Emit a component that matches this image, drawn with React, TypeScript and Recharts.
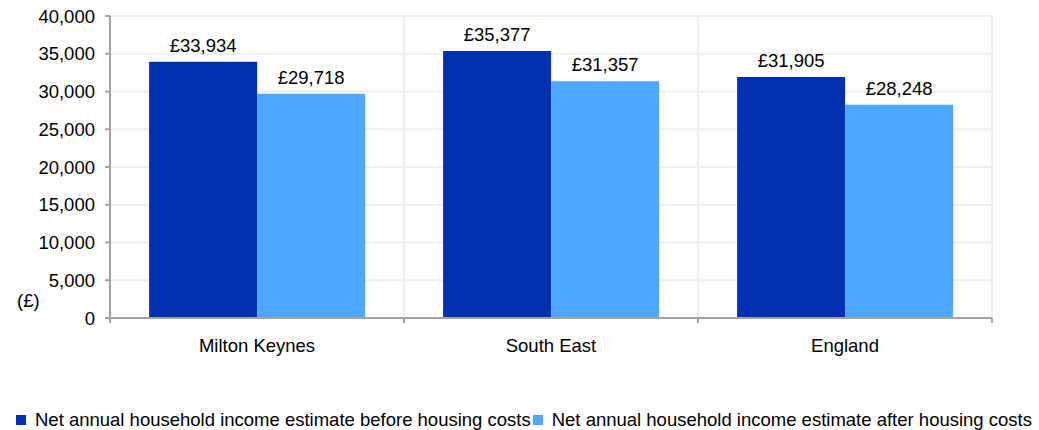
import { BarChart, Bar, XAxis, YAxis, CartesianGrid, Legend, LabelList, Label } from "recharts";

const categories = ["Milton Keynes", "South East", "England"];
const beforeHousing = [33934, 35377, 31905];
const afterHousing = [29718, 31357, 28248];
const yTicks = [0, 5000, 10000, 15000, 20000, 25000, 30000, 35000, 40000];

const seriesNames = [
  "Net annual household income estimate before housing costs",
  "Net annual household income estimate after housing costs",
];
const DARK = "#0230b0";
const LIGHT = "#4ea8ff";
const AXIS = "#a3a3a3";
const FONT = "'Liberation Sans', Arial, sans-serif";
const FS = 18.5;

const data = categories.map((name, i) => ({
  name,
  before: beforeHousing[i],
  after: afterHousing[i],
}));

const fmtMoney = (v: any) => "£" + Number(v).toLocaleString("en-GB");

// category labels centred, tick marks on the category boundaries
function CategoryTick(props: any) {
  const { x, y, payload, index, width, visibleTicksCount } = props;
  const band = width / visibleTicksCount;
  const last = index === visibleTicksCount - 1;
  return (
    <g>
      <line x1={x - band / 2} x2={x - band / 2} y1={y} y2={y + 5} stroke={AXIS} strokeWidth={2} />
      {last && <line x1={x + band / 2} x2={x + band / 2} y1={y} y2={y + 5} stroke={AXIS} strokeWidth={2} />}
      <text x={x} y={y + 34} textAnchor="middle" fill="#000" fontSize={FS} fontFamily={FONT}>
        {payload.value}
      </text>
    </g>
  );
}

function LegendBox(props: any) {
  const items = [...(props.payload || [])].sort(
    (a: any, b: any) => seriesNames.indexOf(a.value) - seriesNames.indexOf(b.value)
  );
  return (
    <div
      style={{
        height: 42,
        boxSizing: "border-box",
        paddingTop: 22,
        paddingLeft: 16,
        display: "flex",
        alignItems: "center",
        whiteSpace: "nowrap",
        fontFamily: FONT,
        fontSize: FS,
        lineHeight: "20px",
        color: "#000",
      }}
    >
      {items.map((it: any, i: number) => (
        <span key={i} style={{ display: "flex", alignItems: "center", marginRight: 2 }}>
          <span style={{ width: 10, height: 10, background: it.color, marginRight: 9, display: "inline-block" }} />
          {it.value}
        </span>
      ))}
    </div>
  );
}

export default function App() {
  return (
    <div style={{ position: "absolute", left: 0, top: 0, background: "#fff" }}>
      <BarChart
        width={1039}
        height={430}
        data={data}
        margin={{ top: 16, right: 47, left: 0, bottom: 0 }}
        barCategoryGap="13.3%"
        barGap={0}
      >
        <CartesianGrid
          stroke="#efefef"
          strokeWidth={2}
          verticalCoordinatesGenerator={({ offset }: any) =>
            Array.from({ length: categories.length + 1 }, (_, i) => offset.left + (offset.width * i) / categories.length)
          }
        />
        <XAxis
          dataKey="name"
          height={70}
          axisLine={{ stroke: AXIS, strokeWidth: 2 }}
          tickLine={false}
          tickSize={0}
          tickMargin={0}
          interval={0}
          tick={<CategoryTick />}
        />
        <YAxis
          width={110}
          domain={[0, 40000]}
          ticks={yTicks}
          interval={0}
          tickFormatter={(v: number) => v.toLocaleString("en-GB")}
          axisLine={{ stroke: AXIS, strokeWidth: 2 }}
          tickLine={{ stroke: AXIS, strokeWidth: 2 }}
          tickSize={5}
          tickMargin={10}
          tick={{ fill: "#000", fontSize: FS, fontFamily: FONT }}
        >
          <Label
            content={({ viewBox }: any) => (
              <text x={viewBox.x + 17} y={viewBox.y + viewBox.height - 11} fontSize={FS} fontFamily={FONT} fill="#000">
                (£)
              </text>
            )}
          />
        </YAxis>
        <Legend verticalAlign="bottom" content={<LegendBox />} wrapperStyle={{ left: 0, width: 1039 }} />
        <Bar dataKey="before" name={seriesNames[0]} fill={DARK} isAnimationActive={false}>
          <LabelList dataKey="before" position="top" offset={10} formatter={fmtMoney} fill="#000" fontSize={FS} fontFamily={FONT} />
        </Bar>
        <Bar dataKey="after" name={seriesNames[1]} fill={LIGHT} isAnimationActive={false}>
          <LabelList dataKey="after" position="top" offset={10} formatter={fmtMoney} fill="#000" fontSize={FS} fontFamily={FONT} />
        </Bar>
      </BarChart>
    </div>
  );
}
